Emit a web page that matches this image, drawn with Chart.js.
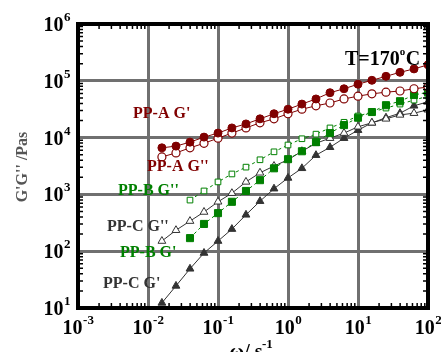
<!DOCTYPE html>
<html>
<head>
<meta charset="utf-8">
<script src="https://cdn.jsdelivr.net/npm/chart.js"></script>
<style>
  html, body { margin: 0; padding: 0; background: #fff; }
  #wrap { width: 441px; height: 352px; }
</style>
</head>
<body>
<div id="wrap"><canvas id="modulusChart"></canvas></div>
<script>
// angular frequency (rad/s), 5 points per decade
const omega = [0.0158, 0.0251, 0.0398, 0.0631, 0.1, 0.158, 0.251, 0.398, 0.631, 1,
               1.58, 2.51, 3.98, 6.31, 10, 15.8, 25.1, 39.8, 63.1, 100];
// PP-B was measured from 0.0398 upwards
const omegaB = omega.slice(2);

// moduli (Pa)
const ppaG1 = [6610, 7080, 8320, 10200, 12000, 14800, 17400, 21400, 26300, 31600,
               38900, 47900, 61700, 72400, 87100, 102000, 120000, 141000, 162000, 191000];
const ppaG2 = [4570, 5370, 6610, 7940, 9770, 12000, 14800, 18200, 21400, 26300,
               31600, 36300, 40700, 47900, 53700, 58900, 63100, 66100, 72400, 77600];
const ppbG1 = [170, 302, 468, 741, 1150, 1780, 2880, 4170, 5750, 8320,
               12000, 16600, 22400, 28200, 37200, 43700, 56200, 63100];
const ppbG2 = [794, 1150, 1660, 2290, 3020, 4070, 5620, 7410, 9550, 11500,
               14800, 18600, 24000, 28200, 33100, 38900, 45700, 53700];
const ppcG1 = [12.3, 24.5, 49, 93, 151, 245, 437, 759, 1260, 1950,
               2880, 4900, 6760, 9770, 13500, 18200, 22400, 26900, 36300, 42700];
const ppcG2 = [151, 234, 339, 490, 741, 1050, 1660, 2400, 3160, 4070,
               5750, 7940, 9770, 12000, 15500, 18200, 21400, 25100, 26900, 30900];

// tick exponents
const xExps = [-3, -2, -1, 0, 1, 2];
const yExps = [1, 2, 3, 4, 5, 6];

const red = '#800000';
const green = '#008000';
const dark = '#333333';
const serif = '"Liberation Serif", "Times New Roman", serif';

function pts(xs, ys) {
    return ys.map((v, i) => ({ x: xs[i], y: v }));
}

// draws 10^n with a raised exponent
function drawPow(ctx, exp, x, y, align) {
    ctx.font = 'bold 20px ' + serif;
    const base = '10';
    const bw = ctx.measureText(base).width;
    ctx.font = 'bold 13px ' + serif;
    const es = String(exp);
    const ew = ctx.measureText(es).width;
    let x0 = x;
    if (align === 'center') x0 = x - (bw + ew) / 2;
    if (align === 'right') x0 = x - (bw + ew);
    ctx.textAlign = 'left';
    ctx.textBaseline = 'alphabetic';
    ctx.font = 'bold 20px ' + serif;
    ctx.fillText(base, x0, y);
    ctx.font = 'bold 13px ' + serif;
    ctx.fillText(es, x0 + bw + 0.5, y - 10);
}

const decor = {
    id: 'decor',
    afterDraw(chart) {
        const ctx = chart.ctx;
        const a = chart.chartArea;
        const xs = chart.scales.x;
        const ys = chart.scales.y;
        ctx.save();
        ctx.strokeStyle = '#000';
        ctx.fillStyle = '#000';

        // minor ticks on all four sides
        ctx.lineWidth = 1.5;
        ctx.beginPath();
        for (let d = -3; d < 2; d++) {
            for (let k = 2; k <= 9; k++) {
                const px = xs.getPixelForValue(k * Math.pow(10, d));
                ctx.moveTo(px, a.bottom); ctx.lineTo(px, a.bottom - 5);
                ctx.moveTo(px, a.top); ctx.lineTo(px, a.top + 5);
            }
        }
        for (let d = 1; d < 6; d++) {
            for (let k = 2; k <= 9; k++) {
                const py = ys.getPixelForValue(k * Math.pow(10, d));
                ctx.moveTo(a.left, py); ctx.lineTo(a.left + 5, py);
                ctx.moveTo(a.right, py); ctx.lineTo(a.right - 5, py);
            }
        }
        ctx.stroke();

        // frame
        ctx.lineWidth = 4;
        ctx.strokeRect(a.left, a.top, a.right - a.left, a.bottom - a.top);

        // tick labels
        xExps.forEach(e => {
            drawPow(ctx, e, xs.getPixelForValue(Math.pow(10, e)), a.bottom + 26, 'center');
        });
        yExps.forEach(e => {
            drawPow(ctx, e, a.left - 8, ys.getPixelForValue(Math.pow(10, e)) + 7, 'right');
        });

        // axis titles
        ctx.font = 'bold 20px ' + serif;
        ctx.textAlign = 'center';
        ctx.fillText('\u03c9/ s', 246, 358);
        ctx.font = 'bold 13px ' + serif;
        ctx.textAlign = 'left';
        ctx.fillText('-1', 262, 348);

        ctx.save();
        ctx.translate(27, 167);
        ctx.rotate(-Math.PI / 2);
        ctx.font = 'bold 16px ' + serif;
        ctx.fillStyle = '#555';
        ctx.textAlign = 'center';
        ctx.fillText("G'G'' /Pas", 0, 0);
        ctx.restore();

        // temperature
        ctx.font = 'bold 20px ' + serif;
        ctx.textAlign = 'left';
        ctx.fillStyle = '#000';
        ctx.fillText('T=170', 345, 65);
        const tw = ctx.measureText('T=170').width;
        ctx.font = 'bold 11px ' + serif;
        ctx.fillText('o', 345 + tw, 55);
        ctx.font = 'bold 20px ' + serif;
        ctx.fillText('C', 345 + tw + 6, 65);

        // series labels
        ctx.font = 'bold 16px ' + serif;
        const labels = [
            ["PP-A G'", red, 133, 118],
            ["PP-A G''", red, 147, 171],
            ["PP-B G''", green, 118, 195],
            ["PP-C G''", dark, 107, 231],
            ["PP-B G'", green, 120, 257],
            ["PP-C G'", dark, 103, 288]
        ];
        labels.forEach(l => {
            ctx.fillStyle = l[1];
            ctx.fillText(l[0], l[2], l[3]);
        });
        ctx.restore();
    }
};

const ctx = document.getElementById('modulusChart').getContext('2d');
new Chart(ctx, {
    type: 'line',
    data: {
        datasets: [
            { data: pts(omega, ppaG1), borderColor: red, backgroundColor: red,
              pointBackgroundColor: red, pointRadius: 4, borderWidth: 1 },
            { data: pts(omega, ppaG2), borderColor: red, backgroundColor: '#fff',
              pointBackgroundColor: '#fff', pointRadius: 4, borderWidth: 1, pointBorderWidth: 1.2 },
            { data: pts(omegaB, ppbG1), borderColor: green, backgroundColor: green,
              pointBackgroundColor: green, pointStyle: 'rect', pointRadius: 5, borderWidth: 1,
              borderDash: [3, 3] },
            { data: pts(omegaB, ppbG2), borderColor: green, backgroundColor: '#fff',
              pointBackgroundColor: '#fff', pointStyle: 'rect', pointRadius: 4, borderWidth: 1,
              borderDash: [3, 3], pointBorderWidth: 1 },
            { data: pts(omega, ppcG2), borderColor: dark, backgroundColor: '#fff',
              pointBackgroundColor: '#fff', pointStyle: 'triangle', pointRadius: 4.5, borderWidth: 1,
              pointBorderWidth: 1 },
            { data: pts(omega, ppcG1), borderColor: dark, backgroundColor: dark,
              pointBackgroundColor: dark, pointStyle: 'triangle', pointRadius: 4.5, borderWidth: 1 }
        ]
    },
    options: {
        responsive: true,
        maintainAspectRatio: false,
        animation: false,
        layout: { padding: { left: 78, top: 24, right: 13, bottom: 44 } },
        plugins: { legend: { display: false }, tooltip: { enabled: false } },
        scales: {
            x: {
                type: 'logarithmic', min: 0.001, max: 100,
                afterBuildTicks: s => { s.ticks = xExps.map(e => ({ value: Math.pow(10, e) })); },
                ticks: { display: false },
                grid: { color: '#707070', lineWidth: 3, borderDash: [1, 1], drawTicks: false },
                border: { display: false }
            },
            y: {
                type: 'logarithmic', min: 10, max: 1000000,
                afterBuildTicks: s => { s.ticks = yExps.map(e => ({ value: Math.pow(10, e) })); },
                ticks: { display: false },
                grid: { color: '#707070', lineWidth: 3, borderDash: [1, 1], drawTicks: false },
                border: { display: false }
            }
        }
    },
    plugins: [decor]
});
</script>
</body>
</html>
